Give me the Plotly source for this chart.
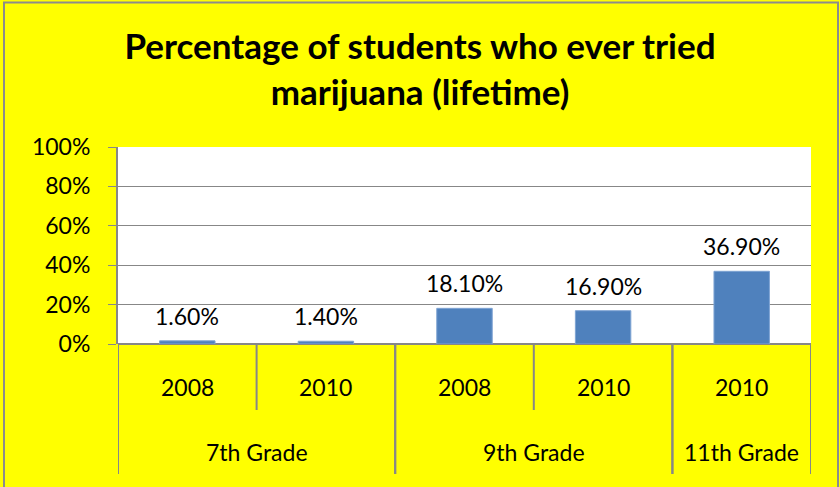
import plotly.graph_objects as go

# ---- data ----
grades = ["7th Grade", "7th Grade", "9th Grade", "9th Grade", "11th Grade"]
years = ["2008", "2010", "2008", "2010", "2010"]
values = [1.6, 1.4, 18.1, 16.9, 36.9]
y_ticks = [0, 20, 40, 60, 80, 100]
title_text = "Percentage of students who ever tried<br>marijuana (lifetime)"

W, H = 840, 487
L, R, T, B = 118, 29, 147, 143
plot_w = W - L - R
plot_h = H - T - B

def py2paper(py):
    return (H - B - py) / plot_h

def px2paper(px):
    return (px - L) / plot_w

FONT = "Lato"
LBL = 23
GRID = "#878787"
x = list(range(len(values)))

fig = go.Figure()
fig.add_trace(go.Bar(
    x=x, y=values, width=0.4,
    marker=dict(color="#4F81BD", line=dict(color="#7EA3D3", width=1)),
    hoverinfo="skip",
))

annotations = []
shapes = []
# value labels above bars
for xi, v in zip(x, values):
    annotations.append(dict(x=xi, y=v, xref="x", yref="y", text=f"{v:.2f}%",
                            showarrow=False, yanchor="bottom", yshift=9,
                            font=dict(family=FONT, size=LBL, color="#000000")))
# year labels
for xi, yr in zip(x, years):
    annotations.append(dict(x=xi, y=py2paper(387), xref="x", yref="paper", text=yr,
                            showarrow=False, yanchor="middle",
                            font=dict(family=FONT, size=LBL, color="#000000")))
# group labels and dividers
groups = []
for i, g in enumerate(grades):
    if groups and groups[-1][0] == g:
        groups[-1][2] = i
    else:
        groups.append([g, i, i])
for g, a, b in groups:
    annotations.append(dict(x=(a + b) / 2, y=py2paper(452), xref="x", yref="paper", text=g,
                            showarrow=False, yanchor="middle",
                            font=dict(family=FONT, size=LBL, color="#000000")))
    for xb in (a - 0.5, b + 0.5):
        shapes.append(dict(type="line", xref="x", yref="paper", x0=xb, x1=xb,
                           y0=0, y1=py2paper(474), line=dict(color=GRID, width=2)))
    for k in range(a, b):
        shapes.append(dict(type="line", xref="x", yref="paper", x0=k + 0.5, x1=k + 0.5,
                           y0=0, y1=py2paper(410), line=dict(color=GRID, width=2)))
# outer border of the chart
shapes.append(dict(type="rect", xref="paper", yref="paper",
                   x0=px2paper(4), x1=px2paper(838), y0=py2paper(495), y1=py2paper(2.5),
                   line=dict(color="#8C8C8C", width=2)))

fig.update_layout(
    width=W, height=H,
    margin=dict(l=L, r=R, t=T, b=B, pad=0),
    paper_bgcolor="#FFFF00",
    plot_bgcolor="#FFFFFF",
    showlegend=False,
    title=dict(text=title_text, x=0.5, xref="container", xanchor="center",
               y=1 - 59 / H, yref="container", yanchor="middle",
               font=dict(family=FONT, size=35, color="#000000", weight="bold")),
    xaxis=dict(range=[-0.5, len(values) - 0.5], showticklabels=False, showgrid=False,
               zeroline=False, showline=False, ticks="", fixedrange=True),
    yaxis=dict(range=[0, 100], tickvals=y_ticks, ticktext=[f"{t}%" for t in y_ticks],
               showgrid=True, gridcolor=GRID, gridwidth=1,
               zeroline=True, zerolinecolor=GRID, zerolinewidth=2,
               showline=True, linecolor=GRID, linewidth=2,
               ticks="outside", ticklen=8, tickcolor=GRID, tickwidth=1,
               ticklabelstandoff=13, fixedrange=True,
               tickfont=dict(family=FONT, size=LBL, color="#000000")),
    annotations=annotations,
    shapes=shapes,
)

fig.write_html("out.html", config={"displayModeBar": False},
               post_script="document.body.style.margin='0';")
